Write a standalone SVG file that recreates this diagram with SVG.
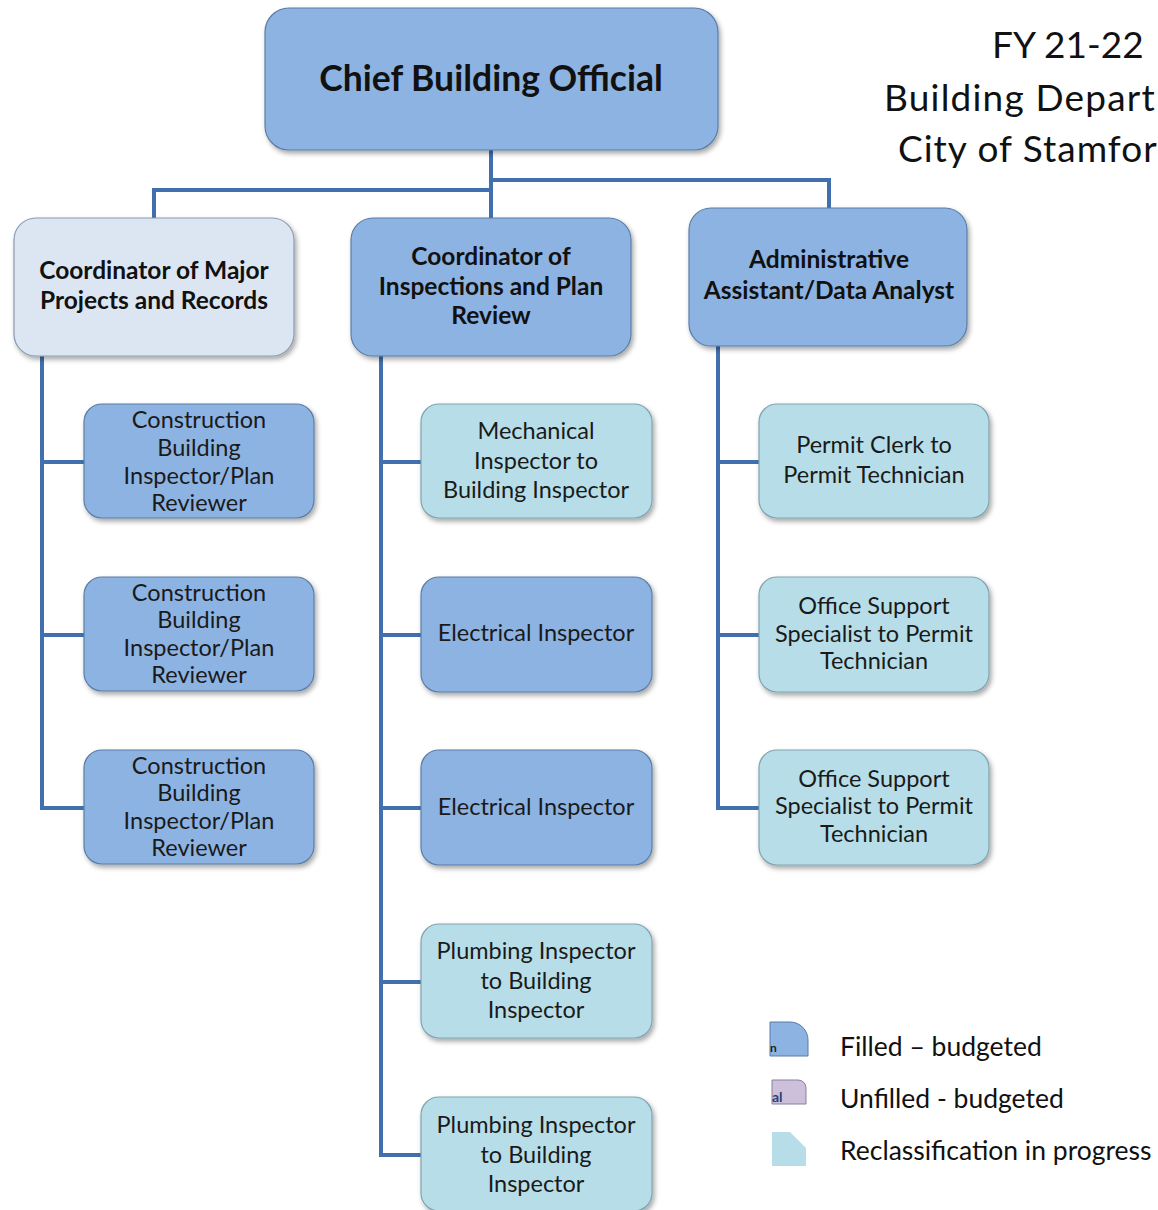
<svg xmlns="http://www.w3.org/2000/svg" width="1158" height="1210" viewBox="0 0 1158 1210">
<defs>
<filter id="sh" x="-10%" y="-10%" width="130%" height="130%">
<feDropShadow dx="2" dy="3" stdDeviation="2.5" flood-color="#000" flood-opacity="0.35"/>
</filter>
<style>
.blue{fill:#8DB3E2;stroke:#5A7DA6;stroke-width:1.2}
.light{fill:#DCE6F2;stroke:#8A9BB0;stroke-width:1.2}
.teal{fill:#B7DEE8;stroke:#7FA3B0;stroke-width:1.2}
.b{font-family:Lato,"Liberation Sans",sans-serif;font-weight:bold;fill:#111;text-anchor:middle;font-size:24.5px}
.t{font-family:Lato,"Liberation Sans",sans-serif;font-size:23.5px;fill:#1a1a1a;text-anchor:middle}
.h{font-family:Lato,"Liberation Sans",sans-serif;font-size:37px;fill:#111}
.lg{font-family:Lato,"Liberation Sans",sans-serif;font-size:26.5px;fill:#111}
.con{fill:none;stroke:#4170AE;stroke-width:4}
</style>
</defs>
<rect width="1158" height="1210" fill="#fff"/>

<g id="connectors" class="con">
<path d="M491 150 V218"/>
<path d="M491 190 H154 V218"/>
<path d="M491 180 H829 V208"/>
<path d="M42 356 V808 H84 M42 462 H84 M42 635 H84"/>
<path d="M381 356 V1155 H421 M381 462 H421 M381 635 H421 M381 808 H421 M381 982 H421"/>
<path d="M718 346 V808 H759 M718 462 H759 M718 635 H759"/>
</g>

<g id="chief"><rect class="blue" filter="url(#sh)" x="265" y="8" width="453" height="142" rx="24"/>
<text class="b" x="491" y="91" style="font-size:35.5px">Chief Building Official</text></g>

<g id="coord-major"><rect class="light" filter="url(#sh)" x="14" y="218" width="280" height="138" rx="22"/>
<text class="b" x="154" y="279">Coordinator of Major</text>
<text class="b" x="154" y="309">Projects and Records</text></g>

<g id="coord-insp"><rect class="blue" filter="url(#sh)" x="351" y="218" width="280" height="138" rx="22"/>
<text class="b" x="491" y="265">Coordinator of</text>
<text class="b" x="491" y="295">Inspections and Plan</text>
<text class="b" x="491" y="324">Review</text></g>

<g id="admin"><rect class="blue" filter="url(#sh)" x="689" y="208" width="278" height="138" rx="22"/>
<text class="b" x="829" y="268">Administrative</text>
<text class="b" x="829" y="299">Assistant/Data Analyst</text></g>

<g id="cbi1"><rect class="blue" filter="url(#sh)" x="84" y="404" width="230" height="114" rx="18"/>
<text class="t" x="199" y="428">Construction</text><text class="t" x="199" y="456">Building</text><text class="t" x="199" y="484">Inspector/Plan</text><text class="t" x="199" y="511">Reviewer</text></g>
<g id="cbi2"><rect class="blue" filter="url(#sh)" x="84" y="577" width="230" height="114" rx="18"/>
<text class="t" x="199" y="601">Construction</text><text class="t" x="199" y="628">Building</text><text class="t" x="199" y="656">Inspector/Plan</text><text class="t" x="199" y="683">Reviewer</text></g>
<g id="cbi3"><rect class="blue" filter="url(#sh)" x="84" y="750" width="230" height="114" rx="18"/>
<text class="t" x="199" y="774">Construction</text><text class="t" x="199" y="801">Building</text><text class="t" x="199" y="829">Inspector/Plan</text><text class="t" x="199" y="856">Reviewer</text></g>

<g id="mech"><rect class="teal" filter="url(#sh)" x="421" y="404" width="231" height="114" rx="18"/>
<text class="t" x="536" y="439">Mechanical</text><text class="t" x="536" y="469">Inspector to</text><text class="t" x="536" y="498">Building Inspector</text></g>
<g id="elec1"><rect class="blue" filter="url(#sh)" x="421" y="577" width="231" height="115" rx="18"/>
<text class="t" x="536" y="641">Electrical Inspector</text></g>
<g id="elec2"><rect class="blue" filter="url(#sh)" x="421" y="750" width="231" height="115" rx="18"/>
<text class="t" x="536" y="815">Electrical Inspector</text></g>
<g id="plumb1"><rect class="teal" filter="url(#sh)" x="421" y="924" width="231" height="114" rx="18"/>
<text class="t" x="536" y="959">Plumbing Inspector</text><text class="t" x="536" y="989">to Building</text><text class="t" x="536" y="1018">Inspector</text></g>
<g id="plumb2"><rect class="teal" filter="url(#sh)" x="421" y="1097" width="231" height="114" rx="18"/>
<text class="t" x="536" y="1133">Plumbing Inspector</text><text class="t" x="536" y="1163">to Building</text><text class="t" x="536" y="1192">Inspector</text></g>

<g id="permit"><rect class="teal" filter="url(#sh)" x="759" y="404" width="230" height="114" rx="18"/>
<text class="t" x="874" y="453">Permit Clerk to</text><text class="t" x="874" y="483">Permit Technician</text></g>
<g id="oss1"><rect class="teal" filter="url(#sh)" x="759" y="577" width="230" height="115" rx="18"/>
<text class="t" x="874" y="614">Office Support</text><text class="t" x="874" y="642">Specialist to Permit</text><text class="t" x="874" y="669">Technician</text></g>
<g id="oss2"><rect class="teal" filter="url(#sh)" x="759" y="750" width="230" height="115" rx="18"/>
<text class="t" x="874" y="787">Office Support</text><text class="t" x="874" y="814">Specialist to Permit</text><text class="t" x="874" y="842">Technician</text></g>

<g id="title">
<text class="h" x="992" y="58">FY 21-22</text>
<text class="h" x="884" y="111" letter-spacing="1.2">Building Depart</text>
<text class="h" x="898" y="162" letter-spacing="1">City of Stamfor</text>
</g>

<g id="legend">
<path d="M770 1022 H790 A18 18 0 0 1 808 1040 V1056 H770 Z" fill="#8DB3E2" stroke="#5A7DA6" stroke-width="1"/>
<text x="770" y="1052" font-family="Lato,sans-serif" font-size="12" font-weight="bold" fill="#222">n</text>
<path d="M772 1080 H798 A8 8 0 0 1 806 1088 V1104 H772 Z" fill="#CCC0DA" stroke="#8C7FA0" stroke-width="1"/>
<text x="772" y="1102" font-family="Lato,sans-serif" font-size="14" font-weight="bold" fill="#2c3e73">al</text>
<path d="M772 1132 H790 L806 1148 V1166 H772 Z" fill="#B7DEE8"/>
<text class="lg" x="840" y="1056">Filled – budgeted</text>
<text class="lg" x="840" y="1108">Unfilled - budgeted</text>
<text class="lg" x="840" y="1160">Reclassification in progress</text>
</g>
</svg>
